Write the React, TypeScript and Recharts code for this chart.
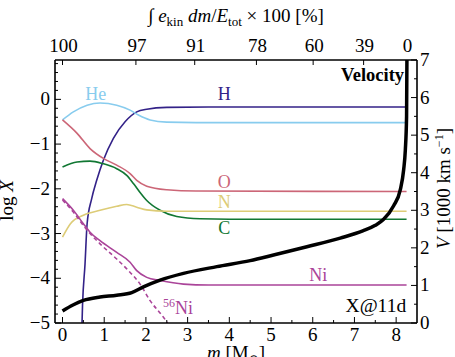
import { Label, Line, LineChart, ReferenceDot, XAxis, YAxis } from "recharts";

const FONT = '"Liberation Serif", "DejaVu Serif", serif';

// composition profiles: m [Msun], log X
const hydrogen = [
  { m: 0.45, v: -5.6 }, { m: 0.48, v: -4.6 }, { m: 0.54, v: -3.68 }, { m: 0.59, v: -2.78 },
  { m: 0.7, v: -2.22 }, { m: 0.82, v: -1.81 }, { m: 0.98, v: -1.36 }, { m: 1.22, v: -0.87 },
  { m: 1.5, v: -0.5 }, { m: 1.78, v: -0.28 }, { m: 2.02, v: -0.22 }, { m: 2.5, v: -0.18 },
  { m: 3.5, v: -0.17 }, { m: 8.25, v: -0.17 },
];
const helium = [
  { m: 0, v: -0.46 }, { m: 0.26, v: -0.28 }, { m: 0.59, v: -0.13 }, { m: 0.9, v: -0.08 },
  { m: 1.3, v: -0.13 }, { m: 1.62, v: -0.24 }, { m: 1.82, v: -0.35 }, { m: 2.1, v: -0.46 },
  { m: 2.5, v: -0.51 }, { m: 3.2, v: -0.52 }, { m: 8.25, v: -0.52 },
];
const oxygen = [
  { m: 0, v: -0.46 }, { m: 0.35, v: -0.76 }, { m: 0.66, v: -1.1 }, { m: 0.98, v: -1.32 },
  { m: 1.3, v: -1.47 }, { m: 1.62, v: -1.66 }, { m: 1.78, v: -1.81 }, { m: 2.02, v: -1.94 },
  { m: 2.5, v: -2.02 }, { m: 3.2, v: -2.05 }, { m: 8.25, v: -2.06 },
];
const carbon = [
  { m: 0, v: -1.51 }, { m: 0.35, v: -1.4 }, { m: 0.66, v: -1.38 }, { m: 0.98, v: -1.44 },
  { m: 1.3, v: -1.55 }, { m: 1.54, v: -1.7 }, { m: 1.7, v: -1.88 }, { m: 1.86, v: -2.08 },
  { m: 2.02, v: -2.26 }, { m: 2.34, v: -2.48 }, { m: 2.74, v: -2.62 }, { m: 3.3, v: -2.67 },
  { m: 4.0, v: -2.68 }, { m: 8.25, v: -2.68 },
];
const nitrogen = [
  { m: 0, v: -3.08 }, { m: 0.19, v: -2.78 }, { m: 0.5, v: -2.59 }, { m: 0.9, v: -2.48 },
  { m: 1.3, v: -2.39 }, { m: 1.54, v: -2.35 }, { m: 1.78, v: -2.41 }, { m: 2.02, v: -2.47 },
  { m: 2.5, v: -2.5 }, { m: 8.25, v: -2.5 },
];
const nickel = [
  { m: 0, v: -2.22 }, { m: 0.26, v: -2.48 }, { m: 0.5, v: -2.78 }, { m: 0.66, v: -2.97 },
  { m: 0.9, v: -3.16 }, { m: 1.3, v: -3.42 }, { m: 1.62, v: -3.64 }, { m: 1.78, v: -3.83 },
  { m: 2.02, v: -3.98 }, { m: 2.34, v: -4.05 }, { m: 2.9, v: -4.13 }, { m: 3.5, v: -4.15 },
  { m: 8.25, v: -4.15 },
];
const nickel56 = [
  { m: 0, v: -2.25 }, { m: 0.26, v: -2.52 }, { m: 0.5, v: -2.82 }, { m: 0.66, v: -3.0 },
  { m: 0.9, v: -3.23 }, { m: 1.3, v: -3.57 }, { m: 1.54, v: -3.79 }, { m: 1.86, v: -4.13 },
  { m: 2.1, v: -4.5 }, { m: 2.42, v: -4.87 }, { m: 2.52, v: -5.0 },
];
// velocity, 1000 km/s
const velocity = [
  { m: 0, v: 0.32 }, { m: 0.25, v: 0.48 }, { m: 0.5, v: 0.6 }, { m: 0.9, v: 0.69 },
  { m: 1.3, v: 0.74 }, { m: 1.66, v: 0.81 }, { m: 1.94, v: 0.96 }, { m: 2.34, v: 1.14 },
  { m: 2.9, v: 1.32 }, { m: 3.7, v: 1.5 }, { m: 4.5, v: 1.66 }, { m: 5.06, v: 1.81 },
  { m: 5.86, v: 2.03 }, { m: 6.66, v: 2.26 }, { m: 7.2, v: 2.45 }, { m: 7.5, v: 2.6 },
  { m: 7.7, v: 2.76 }, { m: 7.94, v: 3.12 }, { m: 8.1, v: 3.55 }, { m: 8.18, v: 4.08 },
  { m: 8.22, v: 4.6 }, { m: 8.25, v: 5.5 }, { m: 8.26, v: 7.3 },
];

const massTicks = [0, 0.5, 1, 1.5, 2, 2.5, 3, 3.5, 4, 4.5, 5, 5.5, 6, 6.5, 7, 7.5, 8];
const logXTicks = Array.from({ length: 30 }, (_, i) => Math.round((-5 + i * 0.2) * 10) / 10);
const velocityTicks = [0, 0.5, 1, 1.5, 2, 2.5, 3, 3.5, 4, 4.5, 5, 5.5, 6, 6.5, 7];
const energyTickMasses = [0, 1.76, 3.17, 4.65, 6.01, 7.22, 8.25];
const energyTickLabels = ["100", "97", "91", "78", "60", "39", "0"];

const annotations = [
  { text: "He", m: 0.8, logX: -0.02, color: "#88CCEE", anchor: "middle" },
  { text: "H", m: 3.88, logX: -0.02, color: "#332288", anchor: "middle" },
  { text: "O", m: 3.88, logX: -1.98, color: "#CC6677", anchor: "middle" },
  { text: "N", m: 3.88, logX: -2.44, color: "#DDCC77", anchor: "middle" },
  { text: "C", m: 3.88, logX: -3.0, color: "#117733", anchor: "middle" },
  { text: "Ni", m: 6.13, logX: -4.05, color: "#AA4499", anchor: "middle" },
];

const fmt = (v: number) => (v < 0 ? "\u2212" + Math.abs(v) : String(v));
const isMajor = (v: number) => Math.abs(v - Math.round(v)) < 1e-6;

function BottomTick({ x, y, payload }: any) {
  const major = isMajor(payload.value);
  return (
    <g>
      <line x1={x} x2={x} y1={y} y2={y - (major ? 6 : 3)} stroke="#000" />
      {major && (
        <text x={x} y={y + 18} textAnchor="middle" fontSize={19} fontFamily={FONT}>
          {payload.value}
        </text>
      )}
    </g>
  );
}

function TopTick({ x, y, payload }: any) {
  const i = energyTickMasses.indexOf(payload.value);
  return (
    <g>
      <line x1={x} x2={x} y1={y} y2={y + 5} stroke="#000" />
      <text x={x + 1} y={y - 8} textAnchor="middle" fontSize={19} fontFamily={FONT}>
        {energyTickLabels[i]}
      </text>
    </g>
  );
}

function LeftTick({ x, y, payload }: any) {
  const major = isMajor(payload.value);
  return (
    <g>
      <line x1={x} x2={x + (major ? 6 : 3)} y1={y} y2={y} stroke="#000" />
      {major && (
        <text x={x - 5} y={y + 6} textAnchor="end" fontSize={19} fontFamily={FONT}>
          {fmt(payload.value)}
        </text>
      )}
    </g>
  );
}

function RightTick({ x, y, payload }: any) {
  const major = isMajor(payload.value);
  return (
    <g>
      <line x1={x} x2={x - (major ? 6 : 3)} y1={y} y2={y} stroke="#000" />
      {major && (
        <text x={x + 3} y={y + 6} textAnchor="start" fontSize={19} fontFamily={FONT}>
          {payload.value}
        </text>
      )}
    </g>
  );
}

const TopTitle = ({ viewBox }: any) => (
  <text x={viewBox.x + viewBox.width / 2} y={22} textAnchor="middle" fontSize={19} fontFamily={FONT}>
    <tspan>{"\u222B "}</tspan>
    <tspan fontStyle="italic">e</tspan>
    <tspan fontSize={13} dy={4}>kin</tspan>
    <tspan fontStyle="italic" dy={-4}>{" dm"}</tspan>
    <tspan>/</tspan>
    <tspan fontStyle="italic">E</tspan>
    <tspan fontSize={13} dy={4}>tot</tspan>
    <tspan dy={-4}>{" \u00D7 100 [%]"}</tspan>
  </text>
);

const BottomTitle = ({ viewBox }: any) => (
  <text x={viewBox.x + viewBox.width / 2} y={viewBox.y + 36} textAnchor="middle" fontSize={19} fontFamily={FONT}>
    <tspan fontStyle="italic">m</tspan>
    <tspan>{" [M"}</tspan>
    <tspan fontSize={12} dy={4}>{"\u2299"}</tspan>
    <tspan dy={-4}>]</tspan>
  </text>
);

const LeftTitle = ({ viewBox }: any) => (
  <text transform={`translate(13, ${viewBox.y + viewBox.height / 2 + 9}) rotate(-90)`} textAnchor="middle" fontSize={19} fontFamily={FONT}>
    <tspan>{"log "}</tspan>
    <tspan fontStyle="italic">X</tspan>
  </text>
);

const RightTitle = ({ viewBox }: any) => (
  <text transform={`translate(450, ${viewBox.y + viewBox.height / 2 - 3}) rotate(-90)`} textAnchor="middle" fontSize={19} fontFamily={FONT}>
    <tspan fontStyle="italic">V</tspan>
    <tspan>{" [1000 km s"}</tspan>
    <tspan fontSize={12} dy={-7}>{"\u22121"}</tspan>
    <tspan dy={7}>]</tspan>
  </text>
);

function textLabel(text: string, color: string, anchor: string) {
  return ({ viewBox }: any) => (
    <text x={viewBox.x} y={viewBox.y} textAnchor={anchor} fill={color} fontSize={18} fontFamily={FONT}>
      {text}
    </text>
  );
}

const Ni56Label = ({ viewBox }: any) => (
  <text x={viewBox.x} y={viewBox.y} fill="#AA4499" fontSize={18} fontFamily={FONT}>
    <tspan fontSize={12} dy={-7}>56</tspan>
    <tspan dy={7}>Ni</tspan>
  </text>
);

const VelocityLabel = ({ viewBox }: any) => (
  <text x={viewBox.x} y={viewBox.y} textAnchor="end" fontSize={18.5} fontWeight="bold" fontFamily={FONT}>
    Velocity
  </text>
);

const EpochLabel = ({ viewBox }: any) => (
  <text x={viewBox.x} y={viewBox.y} textAnchor="end" fontSize={19.5} fontFamily={FONT}>
    X@11d
  </text>
);

const axisLine = { stroke: "#000", strokeWidth: 1.6 };

export default function App() {
  const series = [
    { data: hydrogen, color: "#332288" },
    { data: helium, color: "#88CCEE" },
    { data: oxygen, color: "#CC6677" },
    { data: carbon, color: "#117733" },
    { data: nitrogen, color: "#DDCC77" },
    { data: nickel, color: "#AA4499" },
  ];
  return (
    <div style={{ position: "absolute", left: 0, top: 0, background: "#fff" }}>
      <LineChart width={455} height={357} margin={{ top: 0, right: 0, bottom: 0, left: 0 }}>
        <XAxis
          xAxisId="bottom"
          dataKey="m"
          type="number"
          domain={[-0.18, 8.5]}
          ticks={massTicks}
          interval={0}
          height={34}
          tickSize={0}
          tickMargin={0}
          tick={BottomTick}
          axisLine={axisLine}
          allowDataOverflow
          label={BottomTitle}
        />
        <XAxis
          xAxisId="top"
          orientation="top"
          dataKey="m"
          type="number"
          domain={[-0.18, 8.5]}
          ticks={energyTickMasses}
          interval={0}
          height={60}
          tickSize={0}
          tickMargin={0}
          tick={TopTick}
          axisLine={axisLine}
          allowDataOverflow
          label={TopTitle}
        />
        <YAxis
          yAxisId="left"
          type="number"
          domain={[-5, 0.88]}
          ticks={logXTicks}
          interval={0}
          width={55}
          tickSize={0}
          tickMargin={0}
          tick={LeftTick}
          axisLine={axisLine}
          allowDataOverflow
          label={LeftTitle}
        />
        <YAxis
          yAxisId="right"
          orientation="right"
          type="number"
          domain={[0, 7]}
          ticks={velocityTicks}
          interval={0}
          width={38}
          tickSize={0}
          tickMargin={0}
          tick={RightTick}
          axisLine={axisLine}
          allowDataOverflow
          label={RightTitle}
        />
        {series.map((s, i) => (
          <Line
            key={i}
            xAxisId="bottom"
            yAxisId="left"
            data={s.data}
            dataKey="v"
            type="monotone"
            stroke={s.color}
            strokeWidth={1.6}
            dot={false}
            isAnimationActive={false}
          />
        ))}
        <Line
          xAxisId="bottom"
          yAxisId="left"
          data={nickel56}
          dataKey="v"
          type="monotone"
          stroke="#AA4499"
          strokeWidth={1.6}
          strokeDasharray="4 3"
          dot={false}
          isAnimationActive={false}
        />
        <Line
          xAxisId="bottom"
          yAxisId="right"
          data={velocity}
          dataKey="v"
          type="monotone"
          stroke="#000"
          strokeWidth={3.5}
          dot={false}
          isAnimationActive={false}
        />
        {annotations.map((a) => (
          <ReferenceDot
            key={a.text}
            xAxisId="bottom"
            yAxisId="left"
            x={a.m}
            y={a.logX}
            r={0}
            fill="none"
            stroke="none"
            label={textLabel(a.text, a.color, a.anchor)}
          />
        ))}
        <ReferenceDot xAxisId="bottom" yAxisId="left" x={2.41} y={-4.79} r={0} fill="none" stroke="none" label={Ni56Label} />
        <ReferenceDot xAxisId="bottom" yAxisId="left" x={8.19} y={0.4} r={0} fill="none" stroke="none" label={VelocityLabel} />
        <ReferenceDot xAxisId="bottom" yAxisId="left" x={8.24} y={-4.76} r={0} fill="none" stroke="none" label={EpochLabel} />
      </LineChart>
    </div>
  );
}
